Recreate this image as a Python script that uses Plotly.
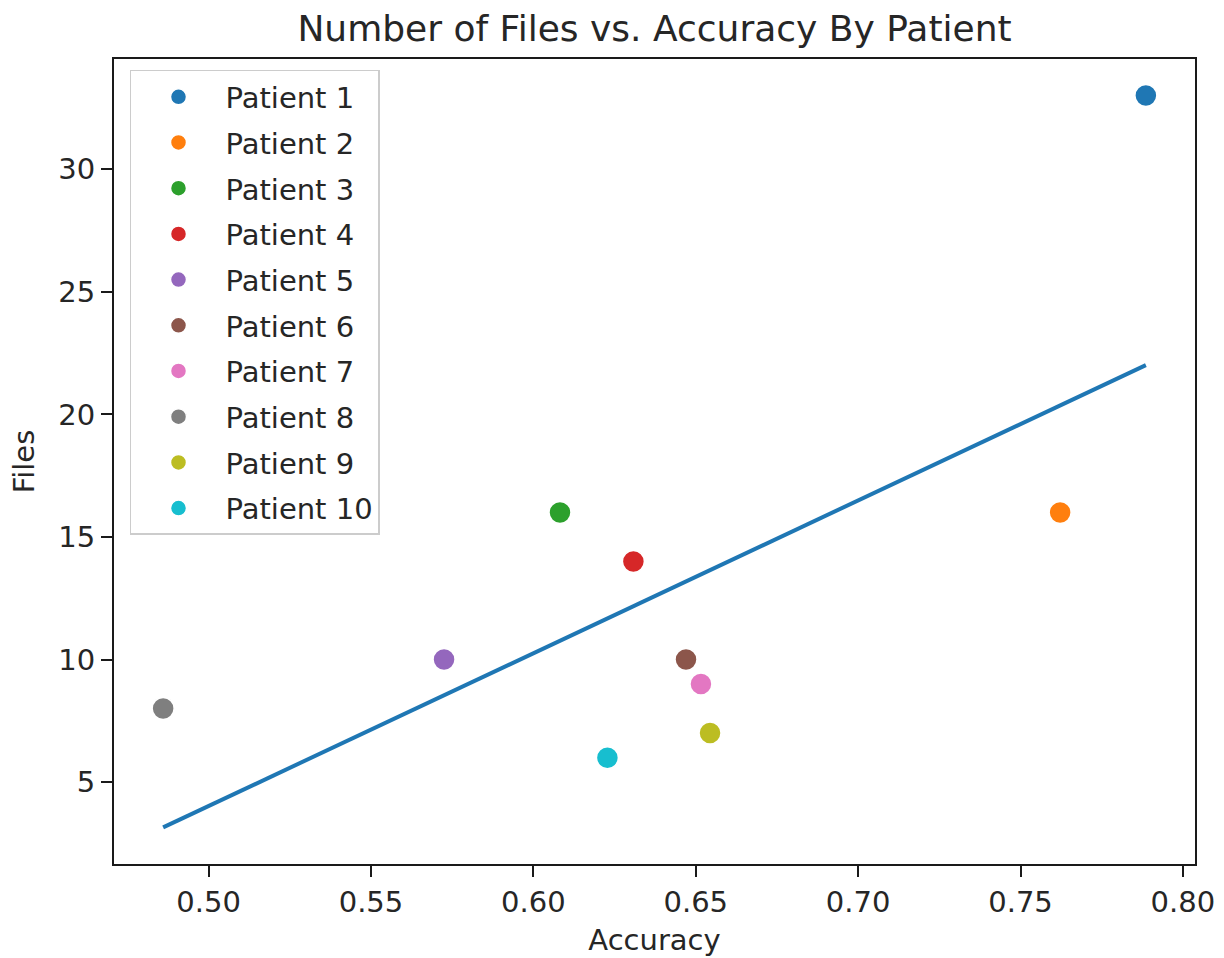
import numpy as np
import plotly.graph_objects as go

# Per-patient results
patients = ["Patient 1", "Patient 2", "Patient 3", "Patient 4", "Patient 5",
            "Patient 6", "Patient 7", "Patient 8", "Patient 9", "Patient 10"]
accuracy = [0.7886, 0.7622, 0.6082, 0.6308, 0.5725,
            0.6470, 0.6516, 0.4860, 0.6544, 0.6228]
files = [33, 16, 16, 14, 10, 10, 9, 8, 7, 6]
colors = ["#1f77b4", "#ff7f0e", "#2ca02c", "#d62728", "#9467bd",
          "#8c564b", "#e377c2", "#7f7f7f", "#bcbd22", "#17becf"]

x_ticks = [0.50, 0.55, 0.60, 0.65, 0.70, 0.75, 0.80]
y_ticks = [5, 10, 15, 20, 25, 30]

FONT = "DejaVu Sans"
TEXT = "#262626"

# Least-squares trend line over the accuracy values
slope, intercept = np.polyfit(accuracy, files, 1)
x_line = np.sort(np.array(accuracy))
y_line = slope * x_line + intercept

fig = go.Figure()

for i, (name, xa, yf, c) in enumerate(zip(patients, accuracy, files, colors)):
    fig.add_trace(go.Scatter(
        x=[xa], y=[yf], mode="markers", name=name,
        legendgroup=f"g{i}",
        marker=dict(size=22, color=c, line=dict(color="white", width=1.5)),
    ))

fig.add_trace(go.Scatter(
    x=x_line, y=y_line, mode="lines", showlegend=False,
    line=dict(color="#1f77b4", width=4),
))

# Axis limits with 5% padding around all plotted data
x_all = np.concatenate([accuracy, x_line])
y_all = np.concatenate([files, y_line])
xpad = 0.05 * (x_all.max() - x_all.min())
ypad = 0.05 * (y_all.max() - y_all.min())

axis_common = dict(
    showline=True, linecolor="#1a1a1a", linewidth=2, mirror=True,
    ticks="outside", ticklen=11, tickwidth=2, tickcolor="#1a1a1a",
    showgrid=False, zeroline=False, automargin=False,
    tickfont=dict(family=FONT, size=29, color=TEXT),
)

fig.update_xaxes(
    range=[x_all.min() - xpad, x_all.max() + xpad],
    tickvals=x_ticks, ticktext=[f"{v:.2f}" for v in x_ticks],
    title=dict(text="Accuracy", font=dict(family=FONT, size=29, color=TEXT), standoff=12),
    **axis_common,
)
fig.update_yaxes(
    range=[y_all.min() - ypad, y_all.max() + ypad],
    tickvals=y_ticks, ticktext=[str(v) for v in y_ticks],
    title=dict(text="Files", font=dict(family=FONT, size=29, color=TEXT), standoff=15),
    **axis_common,
)

fig.update_layout(
    width=1224, height=958,
    margin=dict(l=114, r=29, t=59, b=94),
    paper_bgcolor="white", plot_bgcolor="white",
    font=dict(family=FONT, color=TEXT),
    title=dict(
        text="Number of Files vs. Accuracy By Patient",
        font=dict(family=FONT, size=36, color=TEXT),
        x=(114 + 1195) / 2 / 1224, xanchor="center",
        y=1 - 28 / 958, yanchor="middle", yref="container",
    ),
    legend=dict(
        x=0.0148, y=0.9864, xanchor="left", yanchor="top",
        bgcolor="rgba(255,255,255,0.8)", bordercolor="#cccccc", borderwidth=1.5,
        font=dict(family=FONT, size=29, color=TEXT),
        itemwidth=84, tracegroupgap=5,
    ),
    showlegend=True,
)

fig.write_html("out.html")
